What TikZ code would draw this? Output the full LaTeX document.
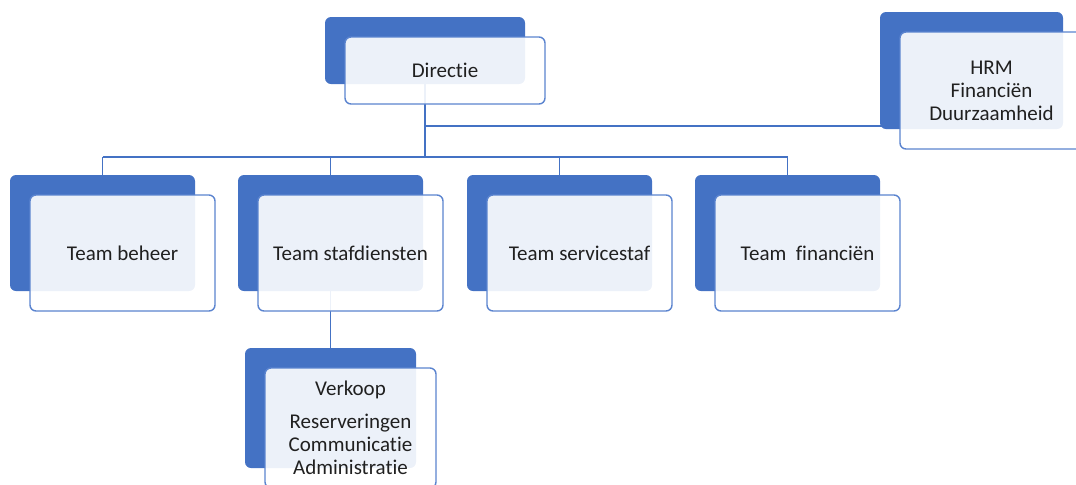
\documentclass[tikz,border=0pt]{standalone}
\usepackage{fontspec}
\setmainfont{Carlito}[Ligatures = NoCommon]
\usetikzlibrary{backgrounds}
\definecolor{boxBlue}{HTML}{4472C4}
\definecolor{edgeBlue}{HTML}{5B84CF}
\definecolor{textGray}{HTML}{202020}
\tikzset{
	shadowbox/.style = {anchor = north west, fill = boxBlue, rounded corners = 3pt, inner sep = 0pt, outer sep = 0pt},
	frontbox/.style = {anchor = north west, draw = edgeBlue, line width = 0.7pt, fill = white, fill opacity = 0.9, text opacity = 1, text = textGray, rounded corners = 3pt, inner sep = 0pt, outer sep = 0pt, align = center, font = \fontsize{10.5}{11.5}\selectfont},
	orgline/.style = {draw = boxBlue, line width = 0.6pt}
}
% shadow block plus the box in front of it
\newcommand{\orgNode}[6]{
	\node[shadowbox, minimum width = #4*0.5pt, minimum height = #5*0.5pt] (#1-s) at (#2, #3) {};
	\node[frontbox, minimum width = #4*0.5pt, minimum height = #5*0.5pt] (#1) at (#2+20, #3+20) {#6};
}

\begin{document}
\begin{tikzpicture}[x = 0.5pt, y = -0.5pt]%
		\useasboundingbox (0, 0) rectangle (1076, 484);
		\clip (0, 0) rectangle (1076, 484);

		% top
		\orgNode{directie}{325}{17}{200}{67}{Directie}
		\orgNode{hrm}{880}{12}{183}{117}{HRM\\Financiën\\Duurzaamheid}

		% teams
		\orgNode{beheer}{10}{175}{185}{116}{Team beheer}
		\orgNode{stafdiensten}{238}{175}{185}{116}{Team stafdiensten}
		\orgNode{servicestaf}{467}{175}{185}{116}{Team servicestaf}
		\orgNode{financien}{695}{175}{185}{116}{Team\ \ financiën}

		% below stafdiensten
		\orgNode{verkoop}{245}{348}{171}{120}{Verkoop\\[5pt]Reserveringen\\Communicatie\\Administratie}

		\coordinate (bar) at (0, 157);
		\coordinate (staff) at (0, 126);

		\begin{pgfonlayer}{background}
			\draw[orgline] (directie-s.south) -- (directie-s.south |- bar);
			\draw[orgline] (directie-s.south |- staff) -- (hrm.west |- staff);
			\draw[orgline] (beheer-s.north |- bar) -- (financien-s.north |- bar);
			\foreach \team in {beheer, stafdiensten, servicestaf, financien}
				\draw[orgline] (\team-s.north |- bar) -- (\team-s.north);
			\draw[orgline] (stafdiensten-s.south) -- (verkoop-s.north);
		\end{pgfonlayer}
	\end{tikzpicture}
\end{document}
